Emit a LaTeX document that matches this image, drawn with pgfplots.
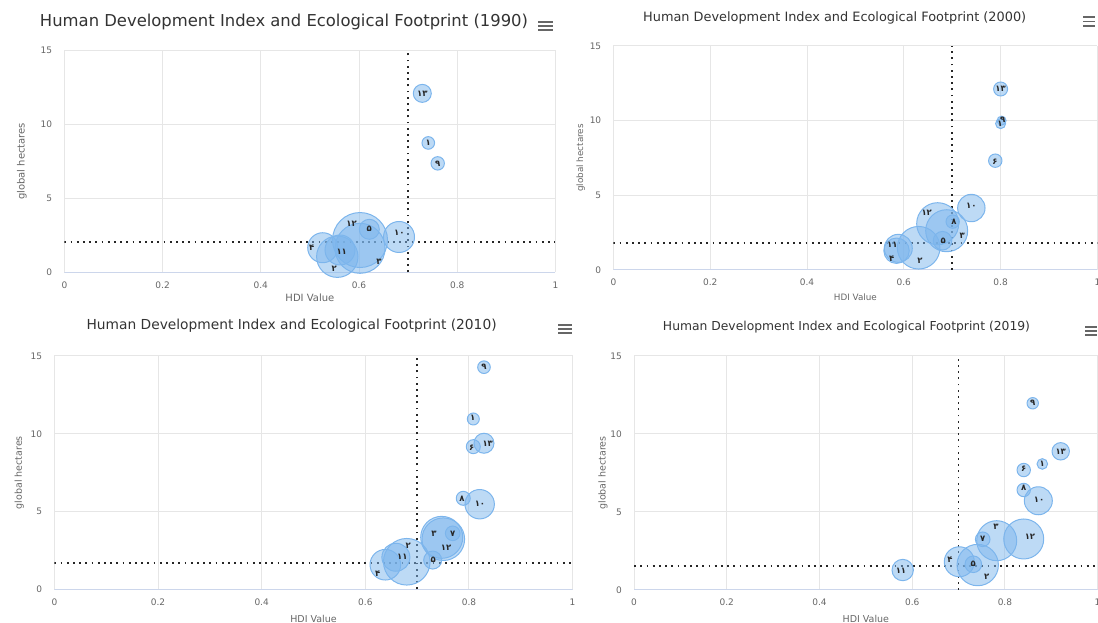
\documentclass[border=0pt]{standalone}
\usepackage{pgfplots}
\pgfplotsset{compat=1.18}
\usepackage{pgfplotstable}
\usepackage{graphicx}
\usepackage{fontspec}
\setmainfont{DejaVu Sans}
\newfontfamily\fa{DejaVu Sans}

\definecolor{bub}{HTML}{7CB5EC}
\definecolor{gridc}{HTML}{E6E6E6}
\definecolor{axc}{HTML}{CCD6EB}
\definecolor{labc}{HTML}{666666}
\definecolor{titc}{HTML}{333333}

% ---------- data: bubbles (x = HDI, y = global hectares, r = radius in pt) ----------
\pgfplotstableread{
x y r
0.7289 12.09 9
0.7411 8.74 6.3
0.7603 7.36 6.7
0.6815 2.385 15.5
0.6021 2.18 27.5
0.6210 2.905 10
0.6021 1.62 25
0.5558 1.054 20.7
0.5261 1.66 15
0.5613 1.507 15
}\bubA
\pgfplotstableread{
x y l
0.7289 12.09 ۱۳
0.7411 8.74 ۱
0.7603 7.36 ۹
0.682 2.70 ۱۰
0.585 3.31 ۱۲
0.621 2.905 ۵
0.5037 1.66 ۴
0.5648 1.39 ۱۱
0.6407 0.716 ۳
0.5497 0.22 ۲
}\labA
\pgfplotstableread{
x y r
0.800 12.12 7
0.800 9.80 5
0.802 10.0 4.5
0.789 7.32 6.7
0.7395 4.15 13.7
0.670 3.10 21
0.6886 2.63 21
0.701 3.24 6.7
0.680 1.96 9.3
0.6307 1.49 21.3
0.5886 1.45 14
0.585 1.29 12.7
}\bubB
\pgfplotstableread{
x y l
0.800 12.12 ۱۳
0.7988 9.76 ۱
0.8043 10.05 ۹
0.7884 7.28 ۶
0.7395 4.33 ۱۰
0.6473 3.86 ۱۲
0.7037 3.24 ۸
0.7209 2.28 ۳
0.6816 1.96 ۵
0.5762 1.675 ۱۱
0.575 0.737 ۴
0.6335 0.603 ۲
}\labB
\pgfplotstableread{
x y r
0.829 14.28 6.3
0.8084 10.95 6
0.8084 9.17 7
0.829 9.39 10
0.789 5.85 7
0.8207 5.47 14.7
0.7474 3.34 21
0.7505 3.22 21.3
0.7686 3.60 7.3
0.730 1.88 9
0.680 1.77 23.3
0.659 2.06 14
0.6386 1.58 15.3
}\bubC
\pgfplotstableread{
x y l
0.829 14.28 ۹
0.8072 11.0 ۱
0.8053 9.11 ۶
0.8362 9.34 ۱۳
0.7866 5.81 ۸
0.8213 5.49 ۱۰
0.7325 3.60 ۳
0.7686 3.60 ۷
0.7557 2.64 ۱۲
0.7312 1.88 ۵
0.683 2.78 ۲
0.6714 2.10 ۱۱
0.6239 0.98 ۴
}\labC
\pgfplotstableread{
x y r
0.86 11.97 5.7
0.9204 8.89 8.7
0.8807 8.08 5.3
0.8406 7.69 6.7
0.8406 6.41 6.7
0.8721 5.72 14
0.8406 3.27 20
0.7823 3.16 20
0.7521 3.25 7.3
0.7016 1.81 15
0.7318 1.65 8.3
0.7413 1.60 20.7
0.5795 1.28 10.7
}\bubD
\pgfplotstableread{
x y l
0.86 11.97 ۹
0.9204 8.89 ۱۳
0.8807 8.08 ۱
0.8406 7.74 ۶
0.8406 6.52 ۸
0.8736 5.77 ۱۰
0.8541 3.42 ۱۲
0.7808 4.06 ۳
0.7521 3.25 ۷
0.6816 1.97 ۴
0.7318 1.65 ۵
0.7607 0.85 ۲
0.5758 1.24 ۱۱
}\labD

\pgfplotsset{
  hc/.style={
    scale only axis, anchor=south west,
    xmin=0, xmax=1, ymin=0, ymax=15,
    xtick={0,0.2,0.4,0.6,0.8,1}, ytick={0,5,10,15},
    grid=major, grid style={gridc, line width=1pt},
    axis line style={draw=none}, major tick length=0pt,
    tick label style={font=\fontsize{9}{10}\selectfont, text=labc, inner sep=0pt},
    xticklabel style={anchor=center, yshift=-12.5pt},
    yticklabel style={anchor=east, xshift=-12pt},
    /pgf/number format/assume math mode=true,
    label style={font=\fontsize{9.5}{11}\selectfont, text=labc, inner sep=0pt},
    xlabel={HDI Value}, ylabel={global hectares},
    clip=true,
  },
  bubbles/.style={scatter, only marks, mark=*,
    scatter/use mapped color={draw=bub, fill=bub, fill opacity=0.5},
    visualization depends on={\thisrow{r}\as\rad},
    scatter/@pre marker code/.append style={/tikz/mark size=\rad},
    mark options={line width=1pt}},
  labels/.style={only marks, mark=*, mark size=0pt,
    mark options={draw=none, fill=none},
    nodes near coords, point meta=explicit symbolic,
    every node near coord/.append style={anchor=center, inner sep=0pt,
      font=\fa\bfseries\fontsize{8.5}{9}\selectfont, text=black!85}},
  thr/.style={black!85, line width=1.8pt, dash pattern=on 1.8pt off 4.4pt},
}

\newcommand{\menu}[3]{%
  \foreach \dy in {0,4.2,8.4}{\draw[labc, line width=1.8pt] (#1pt,#3pt-\dy pt) -- (#2pt,#3pt-\dy pt);}}

\begin{document}
\begin{tikzpicture}
\useasboundingbox (0pt,0pt) rectangle (1098pt,623pt);

% ---------------- 1990 ----------------
\node[text=titc, anchor=center] at (284pt,601pt) {\resizebox{488pt}{!}{Human Development Index and Ecological Footprint (1990)}};
\menu{538}{553}{601.3}
\begin{axis}[hc, at={(64.4pt,350.7pt)}, width=491pt, height=222pt,
  xlabel style={at={(axis description cs:0.5,-0.1158)}, anchor=center},
  ylabel style={at={(axis description cs:-0.0864,0.5)}, anchor=center},
  label style={font=\fontsize{10}{11}\selectfont}]
\draw[axc, line width=1.2pt] (rel axis cs:0,0) -- (rel axis cs:1,0);
\addplot[bubbles] table[x=x,y=y] {\bubA};
\addplot[thr] coordinates {(0,2.07) (1,2.07)};
\addplot[thr] coordinates {(0.7,0) (0.7,15)};
\addplot[labels] table[x=x,y=y,meta=l] {\labA};
\end{axis}

% ---------------- 2000 ----------------
\node[text=titc, anchor=center] at (834.7pt,605.3pt) {\resizebox{383pt}{!}{Human Development Index and Ecological Footprint (2000)}};
\menu{1083.3}{1095.3}{605.7}
\begin{axis}[hc, at={(613.4pt,353pt)}, width=484pt, height=224pt,
  xlabel style={at={(axis description cs:0.5,-0.1237)}, anchor=center},
  ylabel style={at={(axis description cs:-0.0678,0.5)}, anchor=center},
  label style={font=\fontsize{8.8}{10}\selectfont}]
\draw[axc, line width=1.2pt] (rel axis cs:0,0) -- (rel axis cs:1,0);
\addplot[bubbles] table[x=x,y=y] {\bubB};
\addplot[thr] coordinates {(0,1.83) (1,1.83)};
\addplot[thr] coordinates {(0.7,0) (0.7,15)};
\addplot[labels] table[x=x,y=y,meta=l] {\labB};
\end{axis}

% ---------------- 2010 ----------------
\node[text=titc, anchor=center] at (291.6pt,297pt) {\resizebox{410pt}{!}{Human Development Index and Ecological Footprint (2010)}};
\menu{558}{571.6}{298}
\begin{axis}[hc, at={(54.4pt,33.7pt)}, width=518.2pt, height=233.3pt,
  xlabel style={at={(axis description cs:0.5,-0.1286)}, anchor=center},
  ylabel style={at={(axis description cs:-0.0679,0.5)}, anchor=center}]
\draw[axc, line width=1.2pt] (rel axis cs:0,0) -- (rel axis cs:1,0);
\addplot[bubbles] table[x=x,y=y] {\bubC};
\addplot[thr] coordinates {(0,1.71) (1,1.71)};
\addplot[thr] coordinates {(0.7,0) (0.7,15)};
\addplot[labels] table[x=x,y=y,meta=l] {\labC};
\end{axis}

% ---------------- 2019 ----------------
\node[text=titc, anchor=center] at (846.5pt,295.7pt) {\resizebox{367pt}{!}{Human Development Index and Ecological Footprint (2019)}};
\menu{1085}{1097}{296.3}
\begin{axis}[hc, at={(634.1pt,33pt)}, width=463.5pt, height=234pt,
  xlabel style={at={(axis description cs:0.5,-0.125)}, anchor=center},
  ylabel style={at={(axis description cs:-0.0673,0.5)}, anchor=center}]
\draw[axc, line width=1.2pt] (rel axis cs:0,0) -- (rel axis cs:1,0);
\addplot[bubbles] table[x=x,y=y] {\bubD};
\addplot[thr] coordinates {(0,1.54) (1,1.54)};
\addplot[thr] coordinates {(0.7,0) (0.7,15)};
\addplot[labels] table[x=x,y=y,meta=l] {\labD};
\end{axis}
\end{tikzpicture}
\end{document}
